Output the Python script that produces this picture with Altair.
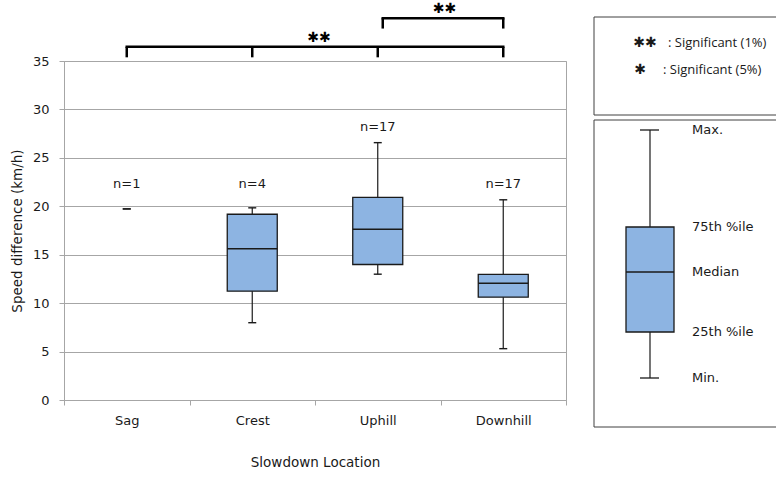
import altair as alt
import pandas as pd

# Speed difference at each slowdown location (km/h): five-number summaries
categories = ["Sag", "Crest", "Uphill", "Downhill"]
n_obs = [1, 4, 17, 17]
whisker_lo = [19.73, 7.98, 12.99, 5.30]
quart_lo = [19.73, 11.24, 13.99, 10.62]
median = [19.73, 15.61, 17.63, 12.06]
quart_hi = [19.73, 19.18, 20.93, 12.96]
whisker_hi = [19.73, 19.84, 26.57, 20.67]

# Significance brackets between groups
bracket_groups = [["Sag", "Crest", "Uphill", "Downhill"], ["Uphill", "Downhill"]]
bracket_levels = [36.46, 39.42]
bracket_drop = [1.08, 1.07]
bracket_stars = ["✱✱", "✱✱"]
bracket_star_band = ["Uphill", "Downhill"]

# Key texts
sig_symbols = ["✱✱", "✱"]
sig_labels = [": Significant (1%)", ": Significant (5%)"]
key_labels = ["Max.", "75th %ile", "Median", "25th %ile", "Min."]

INK = "#1a1a1a"
BOX_FILL = "#8db4e2"
GRID = "#a6a6a6"
FONT = "DejaVu Sans"

df = pd.DataFrame(dict(cat=categories, n=n_obs, lo=whisker_lo, q1=quart_lo,
                       med=median, q3=quart_hi, hi=whisker_hi))
df["n_label"] = "n=" + df["n"].astype(str)

x_scale = alt.Scale(domain=categories, paddingInner=0, paddingOuter=0)
x_axis = alt.Axis(title="Slowdown Location", labelAngle=0, tickBand="extent",
                  grid=False, tickSize=5, labelPadding=9, titlePadding=28,
                  domainColor=GRID, tickColor=GRID)
y_scale = alt.Scale(domain=[0, 35], nice=False, zero=False)
y_axis = alt.Axis(title="Speed difference (km/h)", values=list(range(0, 36, 5)),
                  grid=True, gridColor=GRID, domainColor=GRID, tickColor=GRID,
                  tickSize=5, labelPadding=10, titlePadding=8)


def X(field, **kw):
    return alt.X(field, type="nominal", sort=categories, scale=x_scale, axis=x_axis, **kw)


def Y(field):
    return alt.Y(field, type="quantitative", scale=y_scale, axis=y_axis)


base = alt.Chart(df).encode(x=X("cat"))
multi = base.transform_filter("datum.n > 1")

whisker = base.mark_rule(color=INK, strokeWidth=1.2).encode(y=Y("lo"), y2="hi:Q")
box = multi.mark_bar(size=50, color=BOX_FILL, stroke=INK, strokeWidth=1.3).encode(
    y=Y("q1"), y2="q3:Q")
med_tick = multi.mark_tick(size=50, thickness=1.6, color=INK, opacity=1).encode(y=Y("med"))
cap_lo = base.mark_tick(size=8, thickness=1.4, color=INK, opacity=1).encode(y=Y("lo"))
cap_hi = base.mark_tick(size=8, thickness=1.4, color=INK, opacity=1).encode(y=Y("hi"))
n_text = base.transform_calculate(ly="max(datum.hi, 20.7) + 1.6").mark_text(
    fontSize=13, baseline="middle", color=INK, font=FONT).encode(y=Y("ly"), text="n_label:N")

layers = [whisker, box, med_tick, cap_lo, cap_hi, n_text]

# Brackets above the plot
for cats, level, drop, stars, star_band, shift in zip(
        bracket_groups, bracket_levels, bracket_drop, bracket_stars, bracket_star_band, [0, 5]):
    hdf = pd.DataFrame({"a": [cats[0]], "b": [cats[-1]], "top": [level]})
    layers.append(alt.Chart(hdf).mark_rule(color="black", strokeWidth=2.5, strokeCap="square",
                                           xOffset=shift).encode(
        x=X("a"), x2=alt.X2("b"), y=Y("top")))
    tdf = pd.DataFrame({"cat": cats, "top": level, "bottom": level - drop})
    layers.append(alt.Chart(tdf.iloc[[0]]).mark_rule(color="black", strokeWidth=2.5,
                                                     xOffset=shift).encode(
        x=X("cat"), y=Y("bottom"), y2=alt.Y2("top")))
    layers.append(alt.Chart(tdf.iloc[1:]).mark_rule(color="black", strokeWidth=2.5).encode(
        x=X("cat"), y=Y("bottom"), y2=alt.Y2("top")))
    sdf = pd.DataFrame({"cat": [star_band], "top": [level], "s": [stars]})
    layers.append(alt.Chart(sdf).mark_text(fontSize=14, baseline="middle", dx=4, dy=-9,
                                           font=FONT, color="black").encode(
        x=X("cat", bandPosition=0), y=Y("top"), text="s:N"))

# Key panels to the right of the plot
one = pd.DataFrame({"k": [0]})


def frame(x1, x2, y1, y2, fill="white", stroke="#404040", sw=1.0):
    return alt.Chart(one).mark_rect(fill=fill, stroke=stroke, strokeWidth=sw).encode(
        x=alt.value(x1), x2=alt.value(x2), y=alt.value(y1), y2=alt.value(y2))


def hseg(x1, x2, y, sw=1.3, color=INK):
    return alt.Chart(one).mark_rule(color=color, strokeWidth=sw).encode(
        x=alt.value(x1), x2=alt.value(x2), y=alt.value(y))


def vseg(x, y1, y2, sw=1.2, color=INK):
    return alt.Chart(one).mark_rule(color=color, strokeWidth=sw).encode(
        x=alt.value(x), y=alt.value(y1), y2=alt.value(y2))


def label(txt, x, y, size=13, align="left", font=FONT):
    return alt.Chart(one).mark_text(text=txt, fontSize=size, align=align, baseline="middle",
                                    font=font, color=INK).encode(
        x=alt.value(x), y=alt.value(y))


layers += [frame(530, 730, -44, 54), frame(530, 730, 59, 366)]
for sym, txt, y, sx, tx in zip(sig_symbols, sig_labels, [-18, 9], [581, 576], [604, 599]):
    layers.append(label(sym, sx, y, size=14, align="center"))
    layers.append(label(txt, tx, y, size=13, font="Open Sans"))

key_y = [69, 166, 211, 271, 317]
layers += [
    vseg(586, key_y[0], key_y[4]),
    hseg(576, 595, key_y[0]),
    hseg(576, 595, key_y[4]),
    frame(562, 610, key_y[1], key_y[3], fill=BOX_FILL, stroke=INK, sw=1.3),
    hseg(562, 610, key_y[2], sw=1.5),
]
for txt, y in zip(key_labels, key_y):
    layers.append(label(txt, 628, y))

chart = alt.layer(*layers).properties(
    width=502, height=339,
    autosize=alt.AutoSizeParams(type="none"),
    padding={"left": 64, "top": 61, "right": 210, "bottom": 77},
).configure(font=FONT, background="white").configure_view(
    stroke=GRID
).configure_axis(
    labelFont=FONT, titleFont=FONT, labelFontSize=13, titleFontSize=13.5,
    labelColor=INK, titleColor=INK, titleFontWeight="normal"
)

chart.save("out.html", embed_options={"renderer": "svg", "actions": False})
